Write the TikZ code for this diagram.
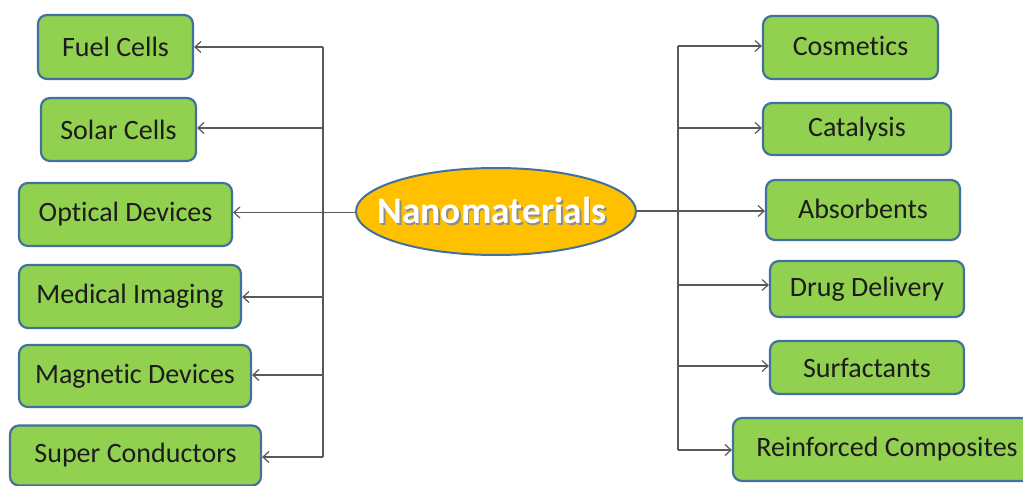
\documentclass[tikz,border=0pt]{standalone}
\usepackage{fontspec}
\setmainfont{Carlito}[Ligatures=NoCommon]
\usetikzlibrary{arrows.meta,shapes.geometric}
\definecolor{boxgreen}{HTML}{92D050}
\definecolor{boxblue}{HTML}{41719C}
\definecolor{nanogold}{HTML}{FFC000}
\definecolor{linegray}{HTML}{595959}
\definecolor{inkdark}{HTML}{1C1C1C}
\tikzset{
  appbox/.style={draw=boxblue, line width=2.2pt, fill=boxgreen, rounded corners=9pt,
    inner sep=0pt, text=inkdark, font=\fontsize{28}{32}\selectfont, anchor=center},
  link/.style={draw=linegray, line width=1.3pt, -{Straight Barb[length=6pt,width=11pt,line width=1.2pt]}},
  trunk/.style={draw=linegray, line width=1.3pt},
}
\begin{document}
\begin{tikzpicture}[x=1pt,y=-1pt]
\useasboundingbox (0,0) rectangle (1023,485);

% central topic
\node[ellipse, draw=boxblue, line width=2pt, fill=nanogold,
  minimum width=280pt, minimum height=87pt, inner sep=0pt] (nano) at (496,211.5) {};
\node[text=black!45, font=\bfseries\fontsize{37.5}{42}\selectfont] (nanoshadow) at (493.5,212) {Nanomaterials};
\node[text=white, font=\bfseries\fontsize{37.5}{42}\selectfont] (nanotext) at (492,210.5) {Nanomaterials};

% applications on the left
\node[appbox, minimum width=155pt, minimum height=64pt] (fuel)    at (115.5,47)  {Fuel Cells};
\node[appbox, minimum width=155pt, minimum height=63pt] (solar)   at (118.5,129.5) {Solar Cells};
\node[appbox, minimum width=213pt, minimum height=63pt] (optical) at (125.5,214.5) {Optical Devices};
\node[appbox, minimum width=222pt, minimum height=63pt] (medical) at (130,296.5) {Medical Imaging};
\node[appbox, minimum width=232pt, minimum height=62pt] (magnet)  at (135,376)   {Magnetic Devices};
\node[appbox, minimum width=251pt, minimum height=60pt] (super)   at (135.5,455.5) {Super Conductors};

% applications on the right
\node[appbox, minimum width=175pt, minimum height=63pt] (cosm)  at (850.5,47.5) {\raisebox{3pt}{Cosmetics}};
\node[appbox, minimum width=188pt, minimum height=52pt] (cat)   at (857,129)    {Catalysis};
\node[appbox, minimum width=194pt, minimum height=60pt] (abs)   at (863,210)    {\raisebox{3pt}{Absorbents}};
\node[appbox, minimum width=194pt, minimum height=56pt] (drug)  at (867,289)    {\raisebox{2pt}{Drug Delivery}};
\node[appbox, minimum width=194pt, minimum height=53pt] (surf)  at (867,367.5)  {Surfactants};
\node[appbox, minimum width=308pt, minimum height=63pt] (reinf) at (887,449.5)  {Reinforced Composites};

% left trunk and branches
\coordinate (l1) at (323,47);
\coordinate (l2) at (323,128);
\coordinate (l4) at (323,297);
\coordinate (l5) at (323,375);
\coordinate (l6) at (323,457);
\draw[trunk] (l1) -- (l6);
\draw[link] (l1) -- (l1 -| fuel.east);
\draw[link] (l2) -- (l2 -| solar.east);
\draw[link] (nano.west |- 0,212.5) -- (optical.east |- 0,212.5);
\draw[link] (l4) -- (l4 -| medical.east);
\draw[link] (l5) -- (l5 -| magnet.east);
\draw[link] (l6) -- (l6 -| super.east);

% right trunk and branches
\coordinate (r1) at (678,46);
\coordinate (r2) at (678,128);
\coordinate (r4) at (678,285);
\coordinate (r5) at (678,366);
\coordinate (r6) at (678,450);
\draw[trunk] (r1) -- (r6);
\draw[link] (r1) -- (r1 -| cosm.west);
\draw[link] (r2) -- (r2 -| cat.west);
\draw[link] (nano.east |- 0,211) -- (abs.west |- 0,211);
\draw[link] (r4) -- (r4 -| drug.west);
\draw[link] (r5) -- (r5 -| surf.west);
\draw[link] (r6) -- (r6 -| reinf.west);
\end{tikzpicture}
\end{document}
